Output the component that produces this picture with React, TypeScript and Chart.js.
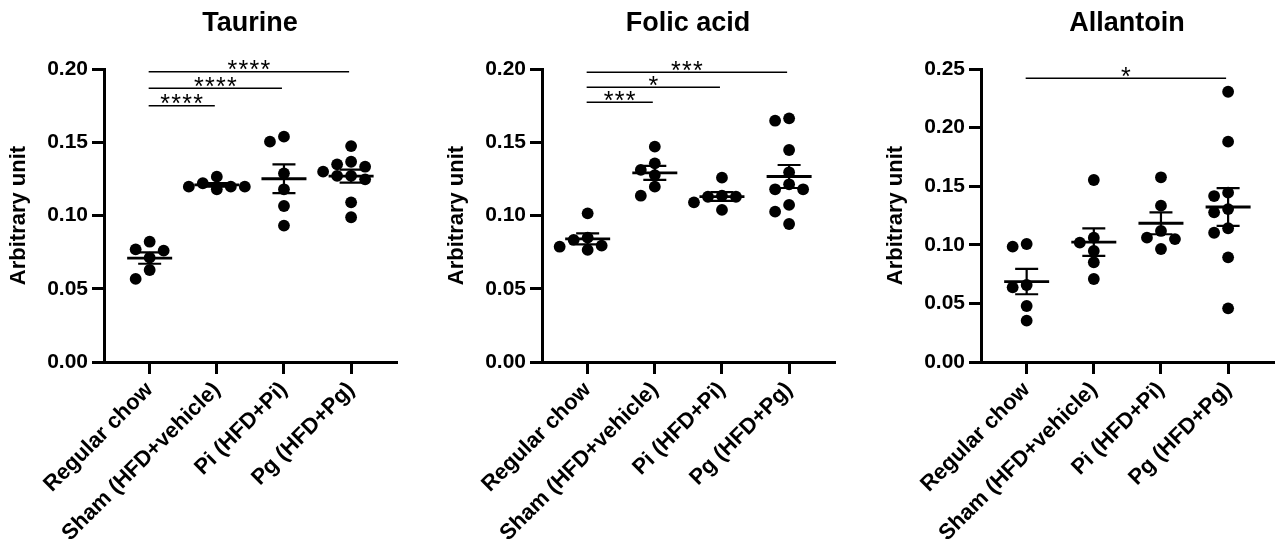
import React, { useEffect, useRef } from "react";
import { Chart, registerables } from "chart.js";

Chart.register(...registerables);

const FONT = '"Liberation Sans", Arial, Helvetica, sans-serif';

const groups = ["Regular chow", "Sham (HFD+vehicle)", "Pi (HFD+Pi)", "Pg (HFD+Pg)"];

// ---- Taurine ----
const taurineRegular = [0.0821, 0.0769, 0.076, 0.0712, 0.0628, 0.0567];
const taurineSham = [0.1265, 0.122, 0.1197, 0.1197, 0.1197, 0.1179];
const taurinePi = [0.1538, 0.1504, 0.1288, 0.1179, 0.1065, 0.0931];
const taurinePg = [0.1474, 0.1367, 0.1349, 0.1333, 0.1299, 0.127, 0.127, 0.1247, 0.109, 0.0988];
const taurineTicks = [0, 0.05, 0.1, 0.15, 0.2];
const taurinePairs = [[0, 1], [0, 2], [0, 3]];
const taurineSig = ["****", "****", "****"];
const taurineSigLevels = [0.175, 0.1868, 0.1982];

// ---- Folic acid ----
const folicRegular = [0.1015, 0.0849, 0.0833, 0.0794, 0.0787, 0.0765];
const folicSham = [0.147, 0.1356, 0.1311, 0.1276, 0.1197, 0.1135];
const folicPi = [0.1258, 0.1135, 0.1128, 0.1128, 0.109, 0.1038];
const folicPg = [0.1663, 0.1647, 0.1447, 0.1295, 0.1213, 0.1179, 0.1179, 0.1072, 0.1026, 0.0942];
const folicTicks = [0, 0.05, 0.1, 0.15, 0.2];
const folicPairs = [[0, 1], [0, 2], [0, 3]];
const folicSig = ["***", "*", "***"];
const folicSigLevels = [0.1773, 0.1875, 0.1977];

// ---- Allantoin ----
const allantoinRegular = [0.1007, 0.0984, 0.0657, 0.0637, 0.0478, 0.0353];
const allantoinSham = [0.1553, 0.1061, 0.1018, 0.0947, 0.0851, 0.0708];
const allantoinPi = [0.1576, 0.1334, 0.1118, 0.1061, 0.1049, 0.0964];
const allantoinPg = [0.2306, 0.188, 0.1445, 0.1416, 0.1305, 0.1277, 0.1141, 0.1103, 0.0893, 0.0458];
const allantoinTicks = [0, 0.05, 0.1, 0.15, 0.2, 0.25];
const allantoinPairs = [[0, 3]];
const allantoinSig = ["*"];
const allantoinSigLevels = [0.2421];

type PanelProps = {
  title: string;
  series: number[][];
  yTicks: number[];
  pairs: number[][];
  sig: string[];
  sigLevels: number[];
  left: number;
};

// spread points horizontally (beeswarm) using the chart's own scales
function swarm(values: number[], center: number, xs: any, ys: any): number[] {
  const step = 14;
  const minDist = 10.5;
  const order = values.map((_, i) => i).sort((a, b) => values[b] - values[a]);
  const placed: { x: number; y: number }[] = [];
  const out: number[] = new Array(values.length).fill(center);
  const cx = xs.getPixelForValue(center);
  for (const i of order) {
    const py = ys.getPixelForValue(values[i]);
    for (let k = 0; k < 30; k++) {
      const slot = k === 0 ? 0 : k % 2 ? -Math.ceil(k / 2) : Math.ceil(k / 2);
      const px = cx + slot * step;
      if (placed.every((p) => Math.hypot(p.x - px, p.y - py) >= minDist)) {
        placed.push({ x: px, y: py });
        out[i] = xs.getValueForPixel(px);
        break;
      }
    }
  }
  return out;
}

function Panel({ title, series, yTicks, pairs, sig, sigLevels, left }: PanelProps) {
  const ref = useRef<HTMLCanvasElement | null>(null);

  useEffect(() => {
    const canvas = ref.current;
    if (!canvas) return;
    const yMax = yTicks[yTicks.length - 1];

    const meanSemPlugin = {
      id: "meanSem",
      afterDatasetsDraw(chart: any) {
        const { ctx } = chart;
        const x = chart.scales.x;
        const y = chart.scales.y;
        series.forEach((vals, i) => {
          const n = vals.length;
          const mean = vals.reduce((a, b) => a + b, 0) / n;
          const sd = Math.sqrt(vals.reduce((a, b) => a + (b - mean) * (b - mean), 0) / (n - 1));
          const sem = sd / Math.sqrt(n);
          const cx = x.getPixelForValue(i);
          const ym = y.getPixelForValue(mean);
          const yt = y.getPixelForValue(mean + sem);
          const yb = y.getPixelForValue(mean - sem);
          ctx.save();
          ctx.strokeStyle = "#000";
          ctx.lineCap = "butt";
          ctx.lineWidth = 2.8;
          ctx.beginPath();
          ctx.moveTo(cx - 22.5, ym);
          ctx.lineTo(cx + 22.5, ym);
          ctx.stroke();
          ctx.lineWidth = 2.2;
          ctx.beginPath();
          ctx.moveTo(cx, yt);
          ctx.lineTo(cx, yb);
          ctx.moveTo(cx - 11.5, yt);
          ctx.lineTo(cx + 11.5, yt);
          ctx.moveTo(cx - 11.5, yb);
          ctx.lineTo(cx + 11.5, yb);
          ctx.stroke();
          ctx.restore();
        });
      },
    };

    const annotPlugin = {
      id: "annot",
      afterDraw(chart: any) {
        const { ctx, chartArea } = chart;
        const x = chart.scales.x;
        const y = chart.scales.y;
        ctx.save();
        // title
        ctx.fillStyle = "#000";
        ctx.font = `bold 27px ${FONT}`;
        ctx.textAlign = "center";
        ctx.textBaseline = "alphabetic";
        ctx.fillText(title, (chartArea.left + chartArea.right) / 2, 31);
        // significance brackets
        pairs.forEach((p, k) => {
          const x1 = x.getPixelForValue(p[0]) - 1;
          const x2 = x.getPixelForValue(p[1]) - 2;
          const yy = y.getPixelForValue(sigLevels[k]);
          ctx.strokeStyle = "#000";
          ctx.lineWidth = 1.5;
          ctx.beginPath();
          ctx.moveTo(x1, yy);
          ctx.lineTo(x2, yy);
          ctx.stroke();
          const label = sig[k];
          ctx.font = `25px ${FONT}`;
          ctx.textAlign = "center";
          const m = ctx.measureText("*");
          const a = m.actualBoundingBoxAscent;
          const d = m.actualBoundingBoxDescent;
          const baseline = yy - 6.5 - (d - a) / 2;
          const pitch = 11;
          const mid = (x1 + x2) / 2;
          for (let s = 0; s < label.length; s++) {
            const sx = mid + (s - (label.length - 1) / 2) * pitch;
            ctx.fillText(label[s], sx, baseline);
          }
        });
        ctx.restore();
      },
    };

    const chart = new Chart(canvas, {
      type: "scatter",
      data: {
        datasets: series.map((vals, gi) => ({
          label: groups[gi],
          data: vals.map((v) => ({ x: gi, y: v })),
          backgroundColor: "#000",
          borderColor: "#000",
          borderWidth: 0,
          pointRadius: 5.9,
          pointHoverRadius: 5.9,
        })),
      },
      options: {
        responsive: false,
        animation: false,
        events: [],
        layout: { padding: { top: 69, left: 0, right: 4, bottom: 0 } },
        plugins: {
          legend: { display: false },
          tooltip: { enabled: false },
          title: { display: false },
        },
        scales: {
          x: {
            type: "linear",
            min: -0.68,
            max: 3.67,
            afterBuildTicks: (s: any) => {
              s.ticks = groups.map((_, i) => ({ value: i }));
            },
            afterFit: (s: any) => {
              s.height = 185;
            },
            ticks: {
              autoSkip: false,
              minRotation: 45,
              maxRotation: 45,
              padding: 3,
              color: "#000",
              font: { family: FONT, size: 22, weight: "bold" },
              callback: (v: any) => groups[Math.round(v)] ?? "",
            },
            grid: {
              drawOnChartArea: false,
              drawTicks: true,
              tickLength: 12,
              color: "#000",
              lineWidth: 3,
            },
            border: { display: true, color: "#000", width: 3 },
          },
          y: {
            type: "linear",
            min: 0,
            max: yMax,
            afterBuildTicks: (s: any) => {
              s.ticks = yTicks.map((v) => ({ value: v }));
            },
            afterFit: (s: any) => {
              s.width = 104;
            },
            ticks: {
              padding: 4,
              color: "#000",
              font: { family: FONT, size: 21, weight: "bold" },
              callback: (v: any) => Number(v).toFixed(2),
            },
            grid: {
              drawOnChartArea: false,
              drawTicks: true,
              tickLength: 12,
              color: "#000",
              lineWidth: 3,
            },
            border: { display: true, color: "#000", width: 3 },
            title: {
              display: true,
              text: "Arbitrary unit",
              color: "#000",
              font: { family: FONT, size: 22, weight: "bold" },
              padding: { top: 6, bottom: 0 },
            },
          },
        },
      } as any,
      plugins: [meanSemPlugin, annotPlugin],
    });

    // beeswarm placement computed via the chart's scales
    const xs = chart.scales.x;
    const ys = chart.scales.y;
    chart.data.datasets.forEach((ds: any, gi: number) => {
      const xv = swarm(series[gi], gi, xs, ys);
      ds.data = series[gi].map((v, k) => ({ x: xv[k], y: v }));
    });
    chart.update("none");

    return () => chart.destroy();
  }, []);

  return (
    <canvas
      ref={ref}
      width={402}
      height={547}
      style={{ position: "absolute", left, top: 0, width: 402, height: 547 }}
    />
  );
}

export default function App() {
  return (
    <div
      style={{
        position: "fixed",
        left: 0,
        top: 0,
        width: 1279,
        height: 547,
        background: "#fff",
        overflow: "hidden",
      }}
    >
      <Panel
        title="Taurine"
        series={[taurineRegular, taurineSham, taurinePi, taurinePg]}
        yTicks={taurineTicks}
        pairs={taurinePairs}
        sig={taurineSig}
        sigLevels={taurineSigLevels}
        left={0}
      />
      <Panel
        title="Folic acid"
        series={[folicRegular, folicSham, folicPi, folicPg]}
        yTicks={folicTicks}
        pairs={folicPairs}
        sig={folicSig}
        sigLevels={folicSigLevels}
        left={438}
      />
      <Panel
        title="Allantoin"
        series={[allantoinRegular, allantoinSham, allantoinPi, allantoinPg]}
        yTicks={allantoinTicks}
        pairs={allantoinPairs}
        sig={allantoinSig}
        sigLevels={allantoinSigLevels}
        left={877}
      />
    </div>
  );
}
